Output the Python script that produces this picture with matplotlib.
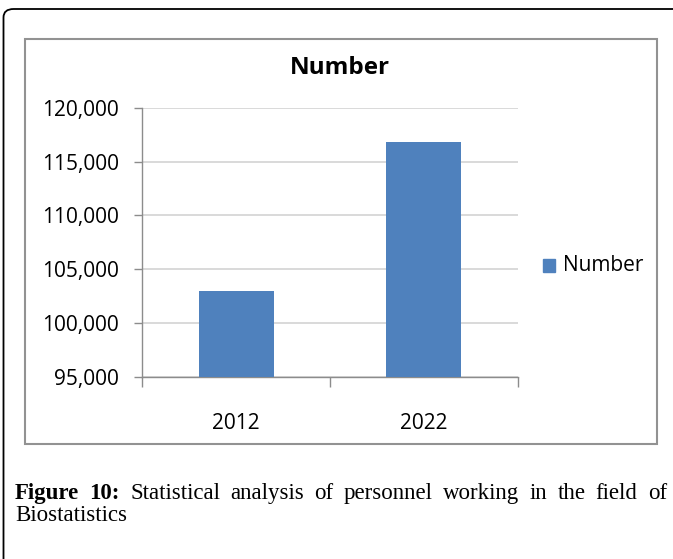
import matplotlib
matplotlib.use("Agg")
import matplotlib.pyplot as plt
from matplotlib.patches import FancyBboxPatch, Rectangle
import matplotlib.ticker as mticker

# --- data ---
years = ["2012", "2022"]
number = [103000, 116800]
y_ticks = [95000, 100000, 105000, 110000, 115000, 120000]
series_name = "Number"
caption_head = "Figure 10:"
caption_body = "Statistical analysis of personnel working in the field of Biostatistics"

W, H = 673, 559
BAR_COLOR = "#4F81BD"
SANS = ["Open Sans", "DejaVu Sans"]
SERIF = ["Liberation Serif", "DejaVu Serif"]


def fx(px):
    return px / W


def fy(py):
    return 1 - py / H


fig = plt.figure(figsize=(W / 100, H / 100), dpi=100)
fig.patch.set_facecolor("white")

# outer rounded box (runs off the right and bottom edges)
outer = FancyBboxPatch((fx(3.5), fy(580)), fx(700), 571 / H,
                       boxstyle="round,pad=0,rounding_size=0.015",
                       transform=fig.transFigure, fill=False,
                       edgecolor="black", linewidth=1.3, clip_on=False)
fig.patches.append(outer)

# chart frame
frame = Rectangle((fx(25), fy(443.5)), fx(656.5 - 25), (443.5 - 38.5) / H,
                  transform=fig.transFigure, fill=False,
                  edgecolor="#929292", linewidth=1.5)
fig.patches.append(frame)

# plot area
ax = fig.add_axes([fx(142.3), fy(376.7), fx(517.7 - 142.3), (376.7 - 108) / H])
xpos = list(range(len(years)))
ax.bar(xpos, number, width=0.4, color=BAR_COLOR, zorder=3, label=series_name)
ax.set_xlim(-0.5, len(years) - 0.5)
ax.set_ylim(y_ticks[0], y_ticks[-1])
ax.set_yticks(y_ticks)
ax.yaxis.set_major_formatter(mticker.FuncFormatter(lambda v, p: f"{int(v):,}"))
ax.grid(axis="y", color="#d0d0d0", linewidth=1.1, zorder=0)
ax.set_axisbelow(True)

ax.set_xticks(xpos)
ax.set_xticklabels(years)
ax.set_xticks([-0.5, 0.5, 1.5], minor=True)
ax.tick_params(axis="x", which="major", length=0, pad=26, labelsize=15)
ax.tick_params(axis="x", which="minor", length=7, color="#8c8c8c", width=1)
ax.tick_params(axis="y", length=6, color="#8c8c8c", width=1, pad=11, labelsize=15)
for lab in ax.get_xticklabels() + ax.get_yticklabels():
    lab.set_family(SANS)

for s in ["top", "right"]:
    ax.spines[s].set_visible(False)
for s in ["left", "bottom"]:
    ax.spines[s].set_color("#8c8c8c")
    ax.spines[s].set_linewidth(1)

# title
fig.text(fx(340), fy(68), series_name, ha="center", va="center",
         fontsize=17.5, fontweight="bold", family=SANS)

# legend
fig.patches.append(Rectangle((fx(543), fy(272)), fx(12), 13 / H,
                             transform=fig.transFigure, color=BAR_COLOR))
fig.text(fx(563), fy(265.5), series_name, ha="left", va="center",
         fontsize=15, family=SANS)

# caption, first line justified between two edges
renderer = fig.canvas.get_renderer()
left_px, right_px = 15, 667
cap_size = 16.5
line1_words = caption_head.split() + caption_body.split()[:-1]
line2 = caption_body.split()[-1]

texts = []
for i, w in enumerate(line1_words):
    bold = i < 2
    t = fig.text(0, fy(499), w, ha="left", va="baseline", fontsize=cap_size,
                 family=SERIF, fontweight="bold" if bold else "normal")
    texts.append(t)
widths = [t.get_window_extent(renderer).width for t in texts]
gap = (right_px - left_px - sum(widths)) / (len(texts) - 1)
x = left_px
for t, w in zip(texts, widths):
    t.set_x(fx(x))
    x += w + gap

fig.text(fx(left_px), fy(521), line2, ha="left", va="baseline",
         fontsize=cap_size, family=SERIF)

fig.savefig("out.png", dpi=100)
